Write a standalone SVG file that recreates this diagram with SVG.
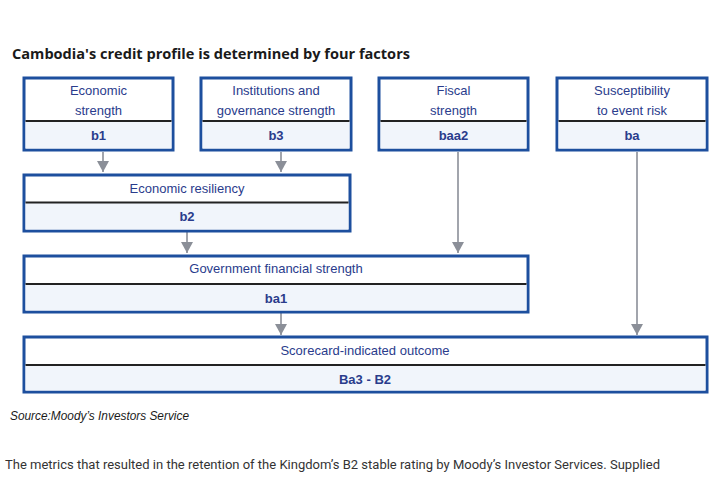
<svg xmlns="http://www.w3.org/2000/svg" width="726" height="490" viewBox="0 0 726 490">
<defs>
<style>
.box{fill:#fff;stroke:#1d4f9e;stroke-width:3}
.val{fill:#f1f5fb;stroke:none}
.div{stroke:#222;stroke-width:2}
.lbl{font-family:"Liberation Sans",Arial,sans-serif;font-size:13px;fill:#2a3c8c;text-anchor:middle}
.v{font-family:"Liberation Sans",Arial,sans-serif;font-size:13px;font-weight:bold;fill:#2a3c8c;text-anchor:middle}
.arr{stroke:#8b8f98;stroke-width:1.6;fill:none;marker-end:url(#ah2)}
</style>
<marker id="ah2" markerWidth="12" markerHeight="11" refX="6" refY="11" markerUnits="userSpaceOnUse" viewBox="0 0 12 11">
<path d="M0,0 L12,0 L6,11 Z" fill="#8b8f98"/>
</marker>
</defs>
<rect width="726" height="490" fill="#fff"/>
<text x="12" y="59" font-family="'Open Sans','Liberation Sans',sans-serif" font-size="15" font-weight="bold" fill="#1a1a1a" textLength="398" lengthAdjust="spacingAndGlyphs">Cambodia's credit profile is determined by four factors</text>

<g id="connectors">
<line class="arr" x1="103" y1="152" x2="103" y2="172"/>
<line class="arr" x1="281" y1="152" x2="281" y2="172"/>
<line class="arr" x1="458" y1="152" x2="458" y2="253"/>
<line class="arr" x1="637" y1="152" x2="637" y2="335"/>
<line class="arr" x1="187" y1="232" x2="187" y2="253"/>
<line class="arr" x1="281" y1="313" x2="281" y2="335"/>
</g>

<g id="economic-strength">
<rect class="box" x="24" y="78" width="149" height="72"/>
<rect class="val" x="25.5" y="121" width="146" height="27.5"/>
<line class="div" x1="25.5" y1="121" x2="171.5" y2="121"/>
<text class="lbl" x="98.5" y="95">Economic</text>
<text class="lbl" x="98.5" y="115">strength</text>
<text class="v" x="98.5" y="140">b1</text>
</g>

<g id="institutions">
<rect class="box" x="201" y="78" width="150" height="72"/>
<rect class="val" x="202.5" y="121" width="147" height="27.5"/>
<line class="div" x1="202.5" y1="121" x2="349.5" y2="121"/>
<text class="lbl" x="276" y="95">Institutions and</text>
<text class="lbl" x="276" y="115">governance strength</text>
<text class="v" x="276" y="140">b3</text>
</g>

<g id="fiscal">
<rect class="box" x="379" y="78" width="149" height="72"/>
<rect class="val" x="380.5" y="121" width="146" height="27.5"/>
<line class="div" x1="380.5" y1="121" x2="526.5" y2="121"/>
<text class="lbl" x="453.5" y="95">Fiscal</text>
<text class="lbl" x="453.5" y="115">strength</text>
<text class="v" x="453.5" y="140">baa2</text>
</g>

<g id="event-risk">
<rect class="box" x="557" y="78" width="150" height="72"/>
<rect class="val" x="558.5" y="121" width="147" height="27.5"/>
<line class="div" x1="558.5" y1="121" x2="705.5" y2="121"/>
<text class="lbl" x="632" y="95">Susceptibility</text>
<text class="lbl" x="632" y="115">to event risk</text>
<text class="v" x="632" y="140">ba</text>
</g>

<g id="economic-resiliency">
<rect class="box" x="24" y="175" width="326" height="56"/>
<rect class="val" x="25.5" y="202.5" width="323" height="27"/>
<line class="div" x1="25.5" y1="202.5" x2="348.5" y2="202.5"/>
<text class="lbl" x="187" y="193">Economic resiliency</text>
<text class="v" x="187" y="221">b2</text>
</g>

<g id="government-financial-strength">
<rect class="box" x="24" y="256" width="504" height="56"/>
<rect class="val" x="25.5" y="284" width="501" height="26.5"/>
<line class="div" x1="25.5" y1="284" x2="526.5" y2="284"/>
<text class="lbl" x="276" y="273">Government financial strength</text>
<text class="v" x="276" y="303">ba1</text>
</g>

<g id="scorecard">
<rect class="box" x="24" y="337" width="683" height="55"/>
<rect class="val" x="25.5" y="365" width="680" height="25.5"/>
<line class="div" x1="25.5" y1="365" x2="705.5" y2="365"/>
<text class="lbl" x="365" y="355">Scorecard-indicated outcome</text>
<text class="v" x="365" y="384">Ba3 - B2</text>
</g>

<text x="10" y="420" font-family="'Liberation Sans',Arial,sans-serif" font-size="12.5" font-style="italic" fill="#1a1a1a" textLength="179" lengthAdjust="spacingAndGlyphs">Source:Moody’s Investors Service</text>
<text x="5" y="469" font-family="Roboto,'Liberation Sans',sans-serif" font-size="12.5" fill="#333" textLength="655" lengthAdjust="spacingAndGlyphs">The metrics that resulted in the retention of the Kingdom’s B2 stable rating by Moody’s Investor Services. Supplied</text>
</svg>
